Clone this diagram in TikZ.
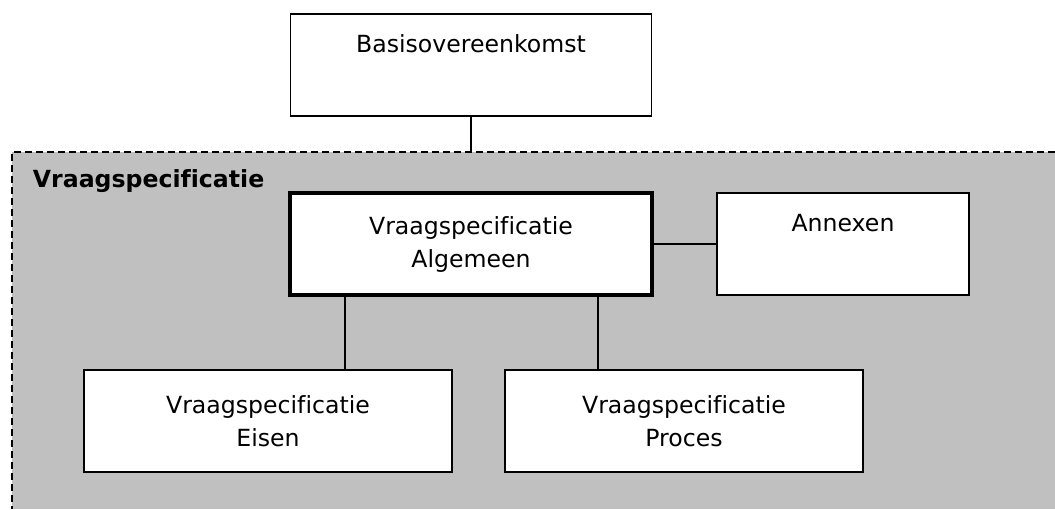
\documentclass[tikz,border=0pt]{standalone}
\usepackage{fontspec}
\setmainfont{DejaVu Sans}[Ligatures=NoCommon]
\usepackage{tikz}
\usetikzlibrary{positioning}
\definecolor{specgray}{RGB}{192,192,192}

\begin{document}
\begin{tikzpicture}[
            x = 1pt, y = 1pt, % one unit per pixel
            node distance = 75pt, % gap between levels
            line width = 1.9pt % line style
            ]

        \tikzstyle{box}=[
            draw,
            fill = white,
            line width = 1.9pt,
            inner sep = 0pt,
            outer sep = 0pt,
            align = center,
            minimum height = 102pt,
            font = \fontsize{23.6}{33}\selectfont
        ]

    \useasboundingbox (0,0) rectangle (1055,509);

    % specification area
    \coordinate (specNW) at (12,357);
    \coordinate (specNE) at (1055,357);
    \coordinate (specSW) at (12,0);
    \fill[specgray] (specNW) rectangle (1055,0);
    \draw[dash pattern=on 7pt off 4pt] (specNE) -- (specNW) -- (specSW);

    \node[anchor=base west, inner sep=0pt, font=\fontsize{23.6}{33}\selectfont\bfseries] (speclabel) at (32,321) {Vraagspecificatie};

    % documents
    \node[box, line width=3.8pt, minimum width=362pt] (algemeen) at (471,265) {Vraagspecificatie\\Algemeen};
    \node[box, minimum width=361pt] (basis) [above=77pt of algemeen] {Basisovereenkomst\\\strut};
    \node[box, minimum width=252pt] (annexen) [right=65pt of algemeen] {Annexen\\\strut};
    \node[box, minimum width=368pt] (eisen) [below=of algemeen, xshift=-203pt] {Vraagspecificatie\\Eisen};
    \node[box, minimum width=358pt] (proces) [below=of algemeen, xshift=213pt] {Vraagspecificatie\\Proces};

    % connections
    \draw (basis) -- (basis.south |- specNW);
    \draw (algemeen) -- (annexen);
    \draw ([xshift=-126pt]algemeen.south) -- ([xshift=-126pt]algemeen.south |- eisen.north);
    \draw ([xshift=127pt]algemeen.south) -- ([xshift=127pt]algemeen.south |- proces.north);

\end{tikzpicture}
\end{document}
